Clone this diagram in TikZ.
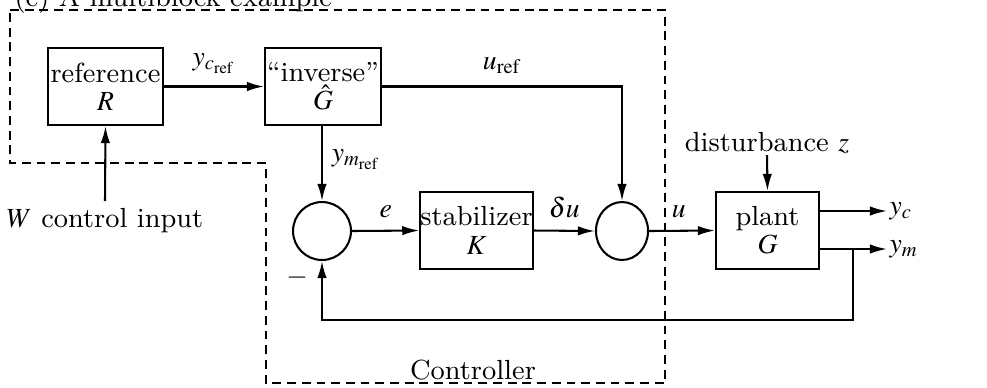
\documentclass[tikz,border=0pt]{standalone}
\usepackage{mathptmx}
\usetikzlibrary{arrows.meta,shapes.geometric}
\tikzset{
  blk/.style={draw,line width=0.7pt,inner sep=0pt,align=center,minimum height=26.2pt,font=\fontsize{9.4}{9.6}\selectfont},
  sumc/.style={draw,line width=0.7pt,ellipse,inner sep=0pt},
  conn/.style={line width=0.7pt},
  arr/.style={conn,-{Latex[length=5.8pt,width=3.2pt]}},
  lbl/.style={inner sep=0pt,font=\fontsize{9.4}{11}\selectfont},
  ctrlbox/.style={dashed,line width=0.55pt,dash pattern=on 3pt off 2pt}
}
\begin{document}
\begin{tikzpicture}[x=0.34pt,y=-0.34pt]
\useasboundingbox (0,0) rectangle (987,387);
% title
\node[lbl,anchor=base west] (title) at (14,6) {(c) A multiblock example};
% controller boundary
\draw[ctrlbox] (10,10) -- (665,10) -- (665,383) -- (266,383) -- (266,163) -- (10,163) -- cycle;
\node[lbl] (ctrl) at (473,370) {Controller};
% blocks
\node[blk,minimum width=39.1pt] (R) at (105.5,86.5) {reference\\$R$};
\node[blk,minimum width=39.4pt] (Gi) at (323,86.5) {``inverse''\\$\hat G$};
\node[blk,minimum width=35pt] (K) at (476.5,230.5) {stabilizer\\$K$};
\node[blk,minimum width=35pt] (G) at (767.5,230.5) {plant\\$G$};
\node[sumc,minimum width=19.7pt,minimum height=19.7pt] (s1) at (322,231) {};
\node[sumc,minimum width=17.7pt,minimum height=19.7pt] (s2) at (622,231) {};
% external labels
\node[lbl] (W) at (105,221) {$W$ control input};
\node[lbl] (dist) at (767,143) {disturbance $z$};
\coordinate (Wtop) at (105,201);
\coordinate (disttop) at (767,155);
\coordinate (yco) at (819,211);
\coordinate (ycend) at (887,211);
\coordinate (ymo) at (819,249);
\coordinate (ymend) at (887,249);
\coordinate (fbbr) at (853,249);
\coordinate (fbbot) at (853,320);
\node[lbl,anchor=west] (yc) at (889,211) {$y_c$};
\node[lbl,anchor=west] (ym) at (889,249) {$y_m$};
% connectors
\draw[arr] (Wtop) -- (R.south);
\draw[arr] (R.east) -- node[lbl,above=4pt] (ycref) {$y_{c_{\mathrm{ref}}}$} (Gi.west);
\draw[arr] (Gi.south -| s1) -- node[lbl,right=3pt,pos=0.45] (ymref) {$y_{m_{\mathrm{ref}}}$} (s1.north);
\draw[arr] (Gi.east) -| node[lbl,above=4pt,pos=0.25] (uref) {$u_{\mathrm{ref}}$} (s2.north);
\draw[arr] (s1.east) -- node[lbl,above=4pt] (e) {$e$} (K.west);
\draw[arr] (K.east) -- node[lbl,above=4pt] (du) {$\delta u$} (s2.west);
\draw[arr] (s2.east) -- node[lbl,above=4pt,pos=0.45] (u) {$u$} (G.west);
\draw[arr] (disttop) -- (G.north);
\draw[arr] (yco) -- (ycend);
\draw[arr] (ymo) -- (ymend);
\draw[arr] (fbbr) -- (fbbot) -| (s1.south);
\node[lbl] (minus) at (297,278) {$-$};
\end{tikzpicture}
\end{document}
